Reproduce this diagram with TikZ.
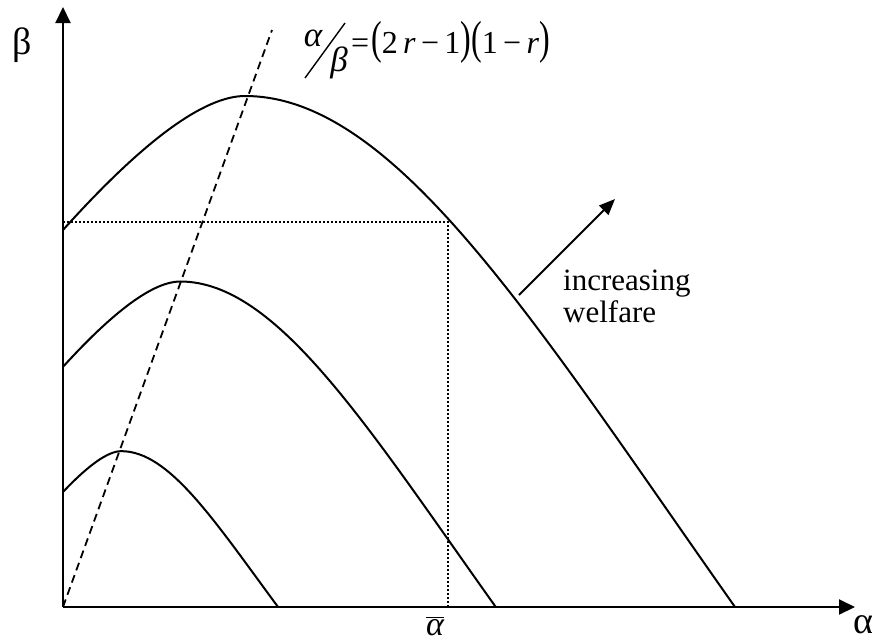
\documentclass[tikz,border=0pt]{standalone}
\usepackage{fontspec}
\setmainfont{Liberation Serif}
\usetikzlibrary{arrows.meta}
\begin{document}
\begin{tikzpicture}[x=1pt,y=-1pt,
  axisline/.style={line width=2pt,-{Triangle[length=16pt,width=15pt]}},
  curveline/.style={line width=2pt},
  guideline/.style={line width=1.8pt,dash pattern=on 8pt off 5pt},
  dotline/.style={line width=1.6pt,dash pattern=on 1.8pt off 2.2pt},
  lbl/.style={inner sep=0pt,font=\fontsize{31}{36}\selectfont},
  every node/.style={inner sep=0pt}]
\useasboundingbox (0,0) rectangle (879,643);
\coordinate (O) at (63,607);
\coordinate (ytop) at (63,7);
\coordinate (xend) at (855,607);
\coordinate (gtop) at (272,30);
\coordinate (h0) at (63,222);
\coordinate (hc) at (448,222);
\coordinate (vb) at (448,607);
\coordinate (wa) at (519,295);
\coordinate (wb) at (615,199);
% axes
\draw[axisline] (O) -- (ytop);
\draw[axisline] (O) -- (xend);
% guide line
\draw[guideline] (O) -- (gtop);
% dotted lines
\draw[dotline] (h0) -- (hc) -- (vb);
% welfare curves: scaled copies about the origin
\tikzset{welfarecurve/.pic={
  \draw[curveline] (0,-377) .. controls (80,-466) and (141,-511) .. (182,-511)
     .. controls (332,-511) and (472,-284) .. (672,0);}}
\pic[shift={(O)}] {welfarecurve};
\pic[shift={(O)},xscale=0.644,yscale=0.637] {welfarecurve};
\pic[shift={(O)},xscale=0.32,yscale=0.305] {welfarecurve};
% welfare arrow
\draw[line width=2pt,-{Triangle[length=16pt,width=13pt]}] (wa) -- (wb);
% labels
\node[lbl,font=\fontsize{38}{40}\selectfont] (blab) at (22,45) {β};
\node[lbl,font=\fontsize{38}{40}\selectfont] (alab) at (863,625) {α};
\node[lbl,anchor=base,font=\fontsize{34}{38}\selectfont] (abar) at (435,635) {$\overline{\hbox{\itshape α}}$};
\node[lbl,anchor=base west] (t1) at (563,290) {increasing};
\node[lbl,anchor=base west] (t2) at (563,322) {welfare};
% formula
\node[lbl,anchor=base,font=\fontsize{35}{38}\selectfont] (fa) at (313,46) {\itshape α};
\coordinate (sa) at (305,78);
\coordinate (sb) at (345,23);
\draw[line width=1.4pt] (sa) -- (sb);
\node[lbl,anchor=base,font=\fontsize{35}{38}\selectfont] (fb) at (339,71) {\itshape β};
\node[lbl,anchor=base west,font=\fontsize{32}{36}\selectfont] (fc) at (351,53) {=\kern2pt\scalebox{1}[1.45]{(}2\,\textit{r}\,−\,1\scalebox{1}[1.45]{)}\scalebox{1}[1.45]{(}1\,−\,\textit{r}\scalebox{1}[1.45]{)}};
\end{tikzpicture}
\end{document}
